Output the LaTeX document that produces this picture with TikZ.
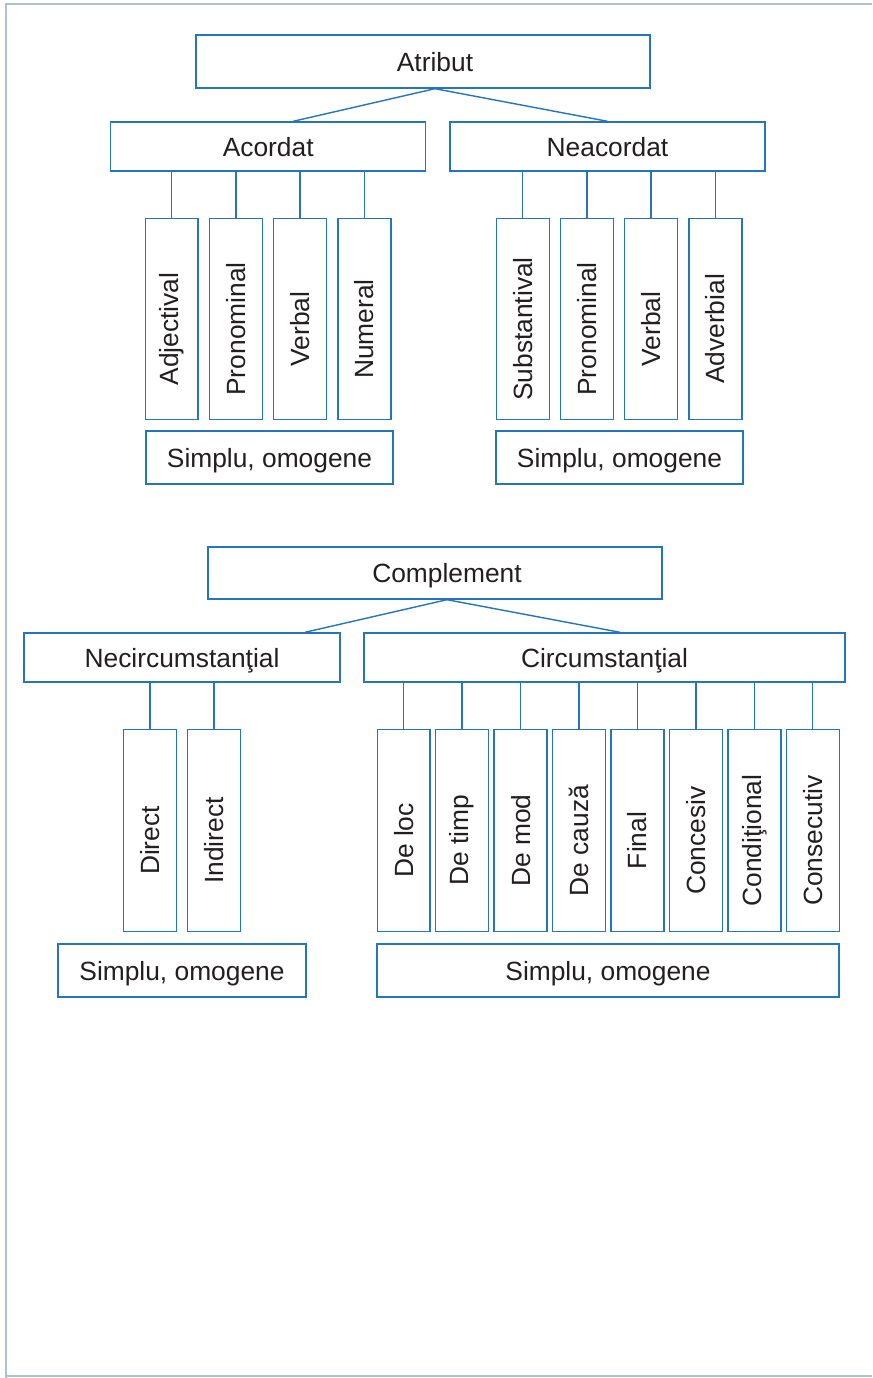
\documentclass[tikz,border=0pt]{standalone}
\usepackage{fontspec}
\setmainfont{Liberation Sans}
\usetikzlibrary{positioning}
\definecolor{boxblue}{RGB}{38,117,186}
\definecolor{inkgray}{RGB}{35,31,32}
\definecolor{pageedge}{RGB}{176,192,214}
\tikzset{
  box/.style={draw=boxblue,line width=0.8pt,fill=white,text=inkgray,font=\fontsize{15}{18}\selectfont,inner sep=0pt,text depth=0pt},
  leafbox/.style={box,minimum width=1.06cm,minimum height=4.03cm},
  plaintext/.style={text=inkgray,font=\fontsize{15}{18}\selectfont,inner sep=0pt,text depth=0pt},
  vtext/.style={rotate=90,text=inkgray,font=\fontsize{15}{18}\selectfont,inner sep=0pt},
  link/.style={draw=boxblue,line width=0.8pt}
}
\begin{document}
\begin{tikzpicture}[x=0.02cm,y=-0.02cm]
\useasboundingbox (0,0) rectangle (872,1378);
\fill[white] (0,0) rectangle (872,1378);
\draw[pageedge,line width=0.8pt] (6,1378) -- (6,4) -- (872,4);
\draw[pageedge,line width=0.8pt] (6,1376) -- (872,1376);
% Atribut
\node[box,minimum width=9.08cm,minimum height=1.06cm] (atribut) at (423,61.5) {};
\node[plaintext] (atributlabel) at ([xshift=0.24cm]atribut.center) {Atribut};
\node[box,minimum width=6.3cm,minimum height=0.98cm] (acordat) at (268.2,146.5) {Acordat};
\node[box,minimum width=6.3cm,minimum height=0.98cm] (neacordat) at (607.5,146.5) {Neacordat};
\coordinate (atrtop) at ([xshift=0.24cm]atribut.south);
\draw[link] (atrtop) -- ([xshift=0.5cm]acordat.north);
\draw[link] (atrtop) -- (neacordat.north);
\foreach \t [count=\i] in {Adjectival,Pronominal,Verbal,Numeral}{
  \node[leafbox] (ac\i) at ({171.7+64.2*(\i-1)},319) {};
  \node[vtext] at ({171.7+64.2*(\i-1)},329) {\t};
  \draw[link] (acordat.south -| ac\i.north) -- (ac\i.north);
}
\foreach \t [count=\i] in {Substantival,Pronominal,Verbal,Adverbial}{
  \node[leafbox] (ne\i) at ({522.7+64.2*(\i-1)},319) {};
  \node[vtext] at ({522.7+64.2*(\i-1)},329) {\t};
  \draw[link] (neacordat.south -| ne\i.north) -- (ne\i.north);
}
\node[box,minimum width=4.94cm,minimum height=1.06cm] (acsimplu) at (269.5,457.5) {Simplu, omogene};
\node[box,minimum width=4.94cm,minimum height=1.06cm] (nesimplu) at (619.5,457.5) {Simplu, omogene};
% Complement
\node[box,minimum width=9.08cm,minimum height=1.04cm] (complement) at (435,573) {};
\node[plaintext] (complementlabel) at ([xshift=0.24cm]complement.center) {Complement};
\node[box,minimum width=6.32cm,minimum height=0.98cm] (necirc) at (182,657.5) {Necircumstanţial};
\node[box,minimum width=9.62cm,minimum height=0.98cm] (circ) at (604.5,657.5) {Circumstanţial};
\coordinate (comptop) at ([xshift=0.24cm]complement.south);
\draw[link] (comptop) -- ([xshift=2.46cm]necirc.north);
\draw[link] (comptop) -- ([xshift=0.31cm]circ.north);
\foreach \t [count=\i] in {Direct,Indirect}{
  \node[leafbox] (nc\i) at ({150+64*(\i-1)},830.5) {};
  \node[vtext] at ({150+64*(\i-1)},840.5) {\t};
  \draw[link] (necirc.south -| nc\i.north) -- (nc\i.north);
}
\foreach \t [count=\i] in {De loc,De timp,De mod,De cauză,Final,Concesiv,Condiţional,Consecutiv}{
  \node[leafbox] (ci\i) at ({403.7+58.44*(\i-1)},830.5) {};
  \node[vtext] at ({403.7+58.44*(\i-1)},840.5) {\t};
  \draw[link] (circ.south -| ci\i.north) -- (ci\i.north);
}
\node[box,minimum width=4.96cm,minimum height=1.06cm] (ncsimplu) at (182,970.5) {Simplu, omogene};
\node[box,minimum width=9.24cm,minimum height=1.06cm] (cisimplu) at (608,970.5) {Simplu, omogene};
\end{tikzpicture}
\end{document}
